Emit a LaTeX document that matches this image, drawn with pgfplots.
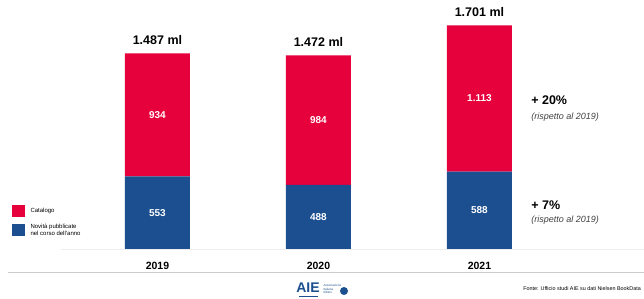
\documentclass[border=0pt]{standalone}
\usepackage{pgfplots}
\pgfplotsset{compat=1.18}
\usepackage{fontspec}
\setmainfont{Liberation Sans}
\definecolor{aiered}{HTML}{E6003C}
\definecolor{aieblue}{HTML}{1C4F8F}
\tikzset{
  seglab/.style={text=white, font=\fontsize{10}{12}\selectfont\bfseries},
  totlab/.style={anchor=south, yshift=5pt, font=\fontsize{12.5}{14}\selectfont\bfseries},
  yearlab/.style={font=\fontsize{10.5}{12}\selectfont\bfseries},
}
\begin{document}
\begin{tikzpicture}[x=1pt,y=1pt]
\begin{axis}[
  scale only axis,
  width=644pt, height=249pt,
  xmin=-0.978, xmax=3.022, ymin=0, ymax=1893,
  ybar stacked, bar width=65pt, clip=false,
  axis lines=none,
]
\addplot[fill=aieblue, draw=none] coordinates {(0,553) (1,488) (2,588)};
\addplot[fill=aiered, draw=none] coordinates {(0,934) (1,984) (2,1113)};
\coordinate (O) at (axis cs:-0.978,0);
\coordinate (E) at (axis cs:3.022,0);
\coordinate (B0) at (axis cs:-0.6,0);
\coordinate (y0) at (axis cs:0,-125);
\coordinate (y1) at (axis cs:1,-125);
\coordinate (y2) at (axis cs:2,-125);
\coordinate (a0) at (axis cs:0,276.5);
\coordinate (a1) at (axis cs:1,244);
\coordinate (a2) at (axis cs:2,294);
\coordinate (b0) at (axis cs:0,1020);
\coordinate (b1) at (axis cs:1,980);
\coordinate (b2) at (axis cs:2,1144.5);
\coordinate (t0) at (axis cs:0,1487);
\coordinate (t1) at (axis cs:1,1472);
\coordinate (t2) at (axis cs:2,1701);
\coordinate (g1) at (axis cs:2.30,1133);
\coordinate (g2) at (axis cs:2.30,1004);
\coordinate (g3) at (axis cs:2.30,335);
\coordinate (g4) at (axis cs:2.30,220);
\end{axis}
\draw[black!7, line width=0.6pt] (B0) -- (E);
\node[yearlab] at (y0) {2019};
\node[yearlab] at (y1) {2020};
\node[yearlab] at (y2) {2021};
\node[seglab] at (a0) {553};
\node[seglab] at (a1) {488};
\node[seglab] at (a2) {588};
\node[seglab] at (b0) {934};
\node[seglab] at (b1) {984};
\node[seglab] at (b2) {1.113};
\node[totlab] at (t0) {1.487 ml};
\node[totlab] at (t1) {1.472 ml};
\node[totlab] at (t2) {1.701 ml};
\node[anchor=west, font=\fontsize{12.5}{14}\selectfont\bfseries] at (g1) {+ 20\%};
\node[anchor=west, font=\fontsize{9}{11}\selectfont\itshape, text=black!75] at (g2) {(rispetto al 2019)};
\node[anchor=west, font=\fontsize{12.5}{14}\selectfont\bfseries] at (g3) {+ 7\%};
\node[anchor=west, font=\fontsize{9}{11}\selectfont\itshape, text=black!75] at (g4) {(rispetto al 2019)};
\begin{scope}[shift={(O)}, yshift=-50pt]
% legend
\fill[aiered] (12,82) rectangle (25,94);
\fill[aieblue] (12,63) rectangle (25,75);
\node[anchor=west, font=\fontsize{6}{7}\selectfont] at (27,88) {Catalogo};
\node[anchor=west, align=left, font=\fontsize{6}{7}\selectfont] at (27,69) {Novità pubblicate\\nel corso dell'anno};
% footer line
\draw[black!20, line width=0.8pt] (8,27) -- (644,27);
% logo
\node[font=\fontsize{14}{14}\selectfont\bfseries, text=aieblue] at (308,11) {AIE};
\draw[aieblue, line width=0.8pt] (299,2.5) -- (318,2.5);
\node[anchor=west, align=left, font=\fontsize{3}{3.6}\selectfont, text=aieblue] at (320,10) {Associazione\\Italiana\\Editori};
\fill[aieblue] (344,8) circle (4);
% source
\node[anchor=east, inner sep=1pt, font=\fontsize{5.4}{7}\selectfont] at (642,10) {Fonte: Ufficio studi AIE su dati Nielsen BookData};
\pgfresetboundingbox
\path (0,0) rectangle (644,299);
\end{scope}
\end{tikzpicture}
\end{document}
